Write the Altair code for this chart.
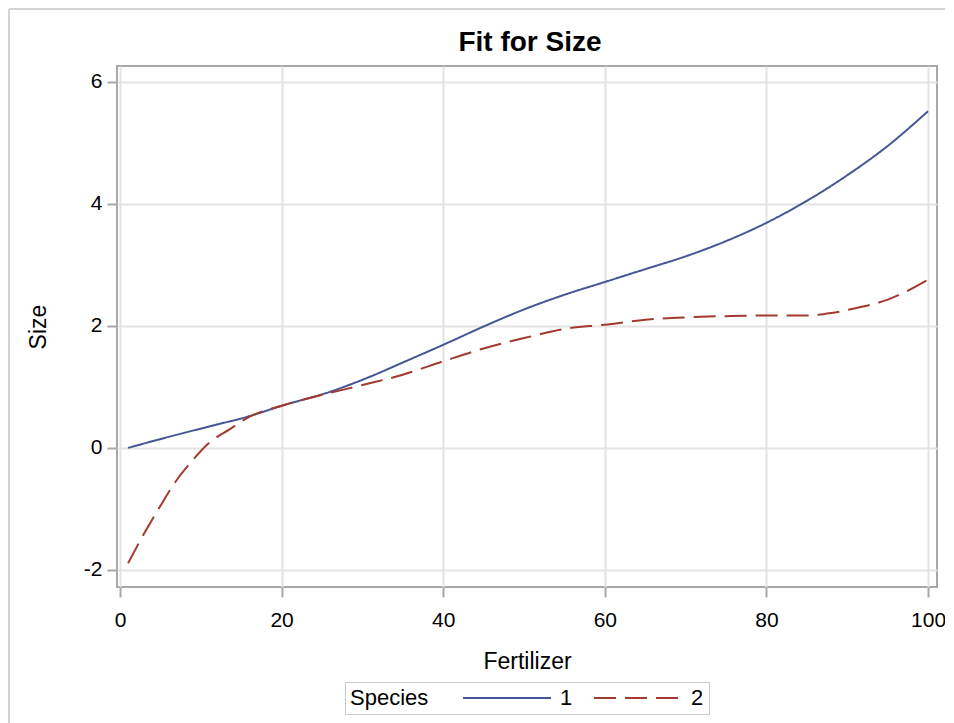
import altair as alt
import pandas as pd

# Species 1 (solid blue)
fert_1 = [1, 6, 11, 16, 20, 26, 31, 35, 40, 45, 50, 55, 60, 65, 70, 75, 80, 85, 90, 95, 100]
size_1 = [0.0, 0.18, 0.35, 0.52, 0.69, 0.92, 1.17, 1.40, 1.69, 1.99, 2.27, 2.51, 2.72, 2.93,
          3.14, 3.39, 3.69, 4.05, 4.47, 4.95, 5.52]
# Species 2 (dashed red)
fert_2 = [1, 3, 5, 7, 9, 11, 13.5, 16, 20, 25, 30, 35, 40, 45, 50, 55, 60, 65, 70, 75, 80,
          85, 88, 91, 95, 100]
size_2 = [-1.89, -1.40, -0.95, -0.53, -0.20, 0.08, 0.30, 0.51, 0.69, 0.87, 1.03, 1.20, 1.42,
          1.63, 1.80, 1.95, 2.02, 2.10, 2.14, 2.16, 2.17, 2.17, 2.21, 2.29, 2.43, 2.76]

species = ["1", "2"]
x_ticks = [0, 20, 40, 60, 80, 100]
y_ticks = [-2, 0, 2, 4, 6]
title_text = "Fit for Size"

df = pd.concat([
    pd.DataFrame({"Fertilizer": fert_1, "Size": size_1, "Species": species[0]}),
    pd.DataFrame({"Fertilizer": fert_2, "Size": size_2, "Species": species[1]}),
])

FONT = "Liberation Sans"
legend_cfg = dict(
    orient="none", legendX=228, legendY=616, direction="horizontal",
    titleOrient="left", strokeColor="#c8c8c8", padding=5,
    titleFontSize=22, labelFontSize=22, titleFontWeight="normal",
    titleColor="black", labelColor="black", titleFont=FONT, labelFont=FONT,
    symbolType="stroke", symbolSize=7744, symbolStrokeWidth=2, clipHeight=22,
    labelOffset=8, columnPadding=20, titlePadding=33, title="Species",
)

lines = alt.Chart(df).mark_line(strokeWidth=2, interpolate="monotone").encode(
    x=alt.X("Fertilizer:Q",
            scale=alt.Scale(domain=[-0.37, 101.1], nice=False, zero=False),
            axis=alt.Axis(values=x_ticks, title="Fertilizer")),
    y=alt.Y("Size:Q",
            scale=alt.Scale(domain=[-2.28, 6.26], nice=False, zero=False),
            axis=alt.Axis(values=y_ticks, title="Size", labelExpr="'' + datum.value")),
    color=alt.Color("Species:N",
                    scale=alt.Scale(domain=species, range=["#445694", "#A23A2E"]),
                    legend=alt.Legend(**legend_cfg)),
    strokeDash=alt.StrokeDash("Species:N",
                              scale=alt.Scale(domain=species, range=[[1, 0], [22, 9]]),
                              legend=alt.Legend(**legend_cfg)),
)

frame_src = pd.DataFrame({"a": [0]})
left_border = alt.Chart(frame_src).mark_rule(color="#d3d3d3", strokeWidth=2).encode(
    x=alt.value(-108), y=alt.value(-57), y2=alt.value(680))
top_border = alt.Chart(frame_src).mark_rule(color="#d3d3d3", strokeWidth=2).encode(
    x=alt.value(-108), x2=alt.value(840), y=alt.value(-57))
title_mark = alt.Chart(frame_src).mark_text(
    text=title_text, font=FONT, fontSize=28, fontWeight="bold", color="black",
    align="center", baseline="alphabetic"
).encode(x=alt.value(413), y=alt.value(-15))

chart = alt.layer(left_border, top_border, title_mark, lines).properties(
    width=820, height=521,
    autosize=alt.AutoSizeParams(type="none"),
    padding={"left": 109, "top": 58, "right": 8, "bottom": 136},
).configure_view(
    stroke="#a8a8a8", strokeWidth=2
).configure_axis(
    domain=False, grid=True, gridColor="#e3e3e3", gridWidth=2,
    tickColor="#a8a8a8", tickSize=10, tickWidth=2,
    labelFont=FONT, labelFontSize=21, labelColor="black",
    titleFont=FONT, titleFontSize=23, titleColor="black", titleFontWeight="normal",
).configure_axisX(labelPadding=12, titlePadding=20).configure_axisY(
    labelPadding=5, titlePadding=33)

chart.save("out.html", embed_options={"renderer": "svg", "actions": False})
